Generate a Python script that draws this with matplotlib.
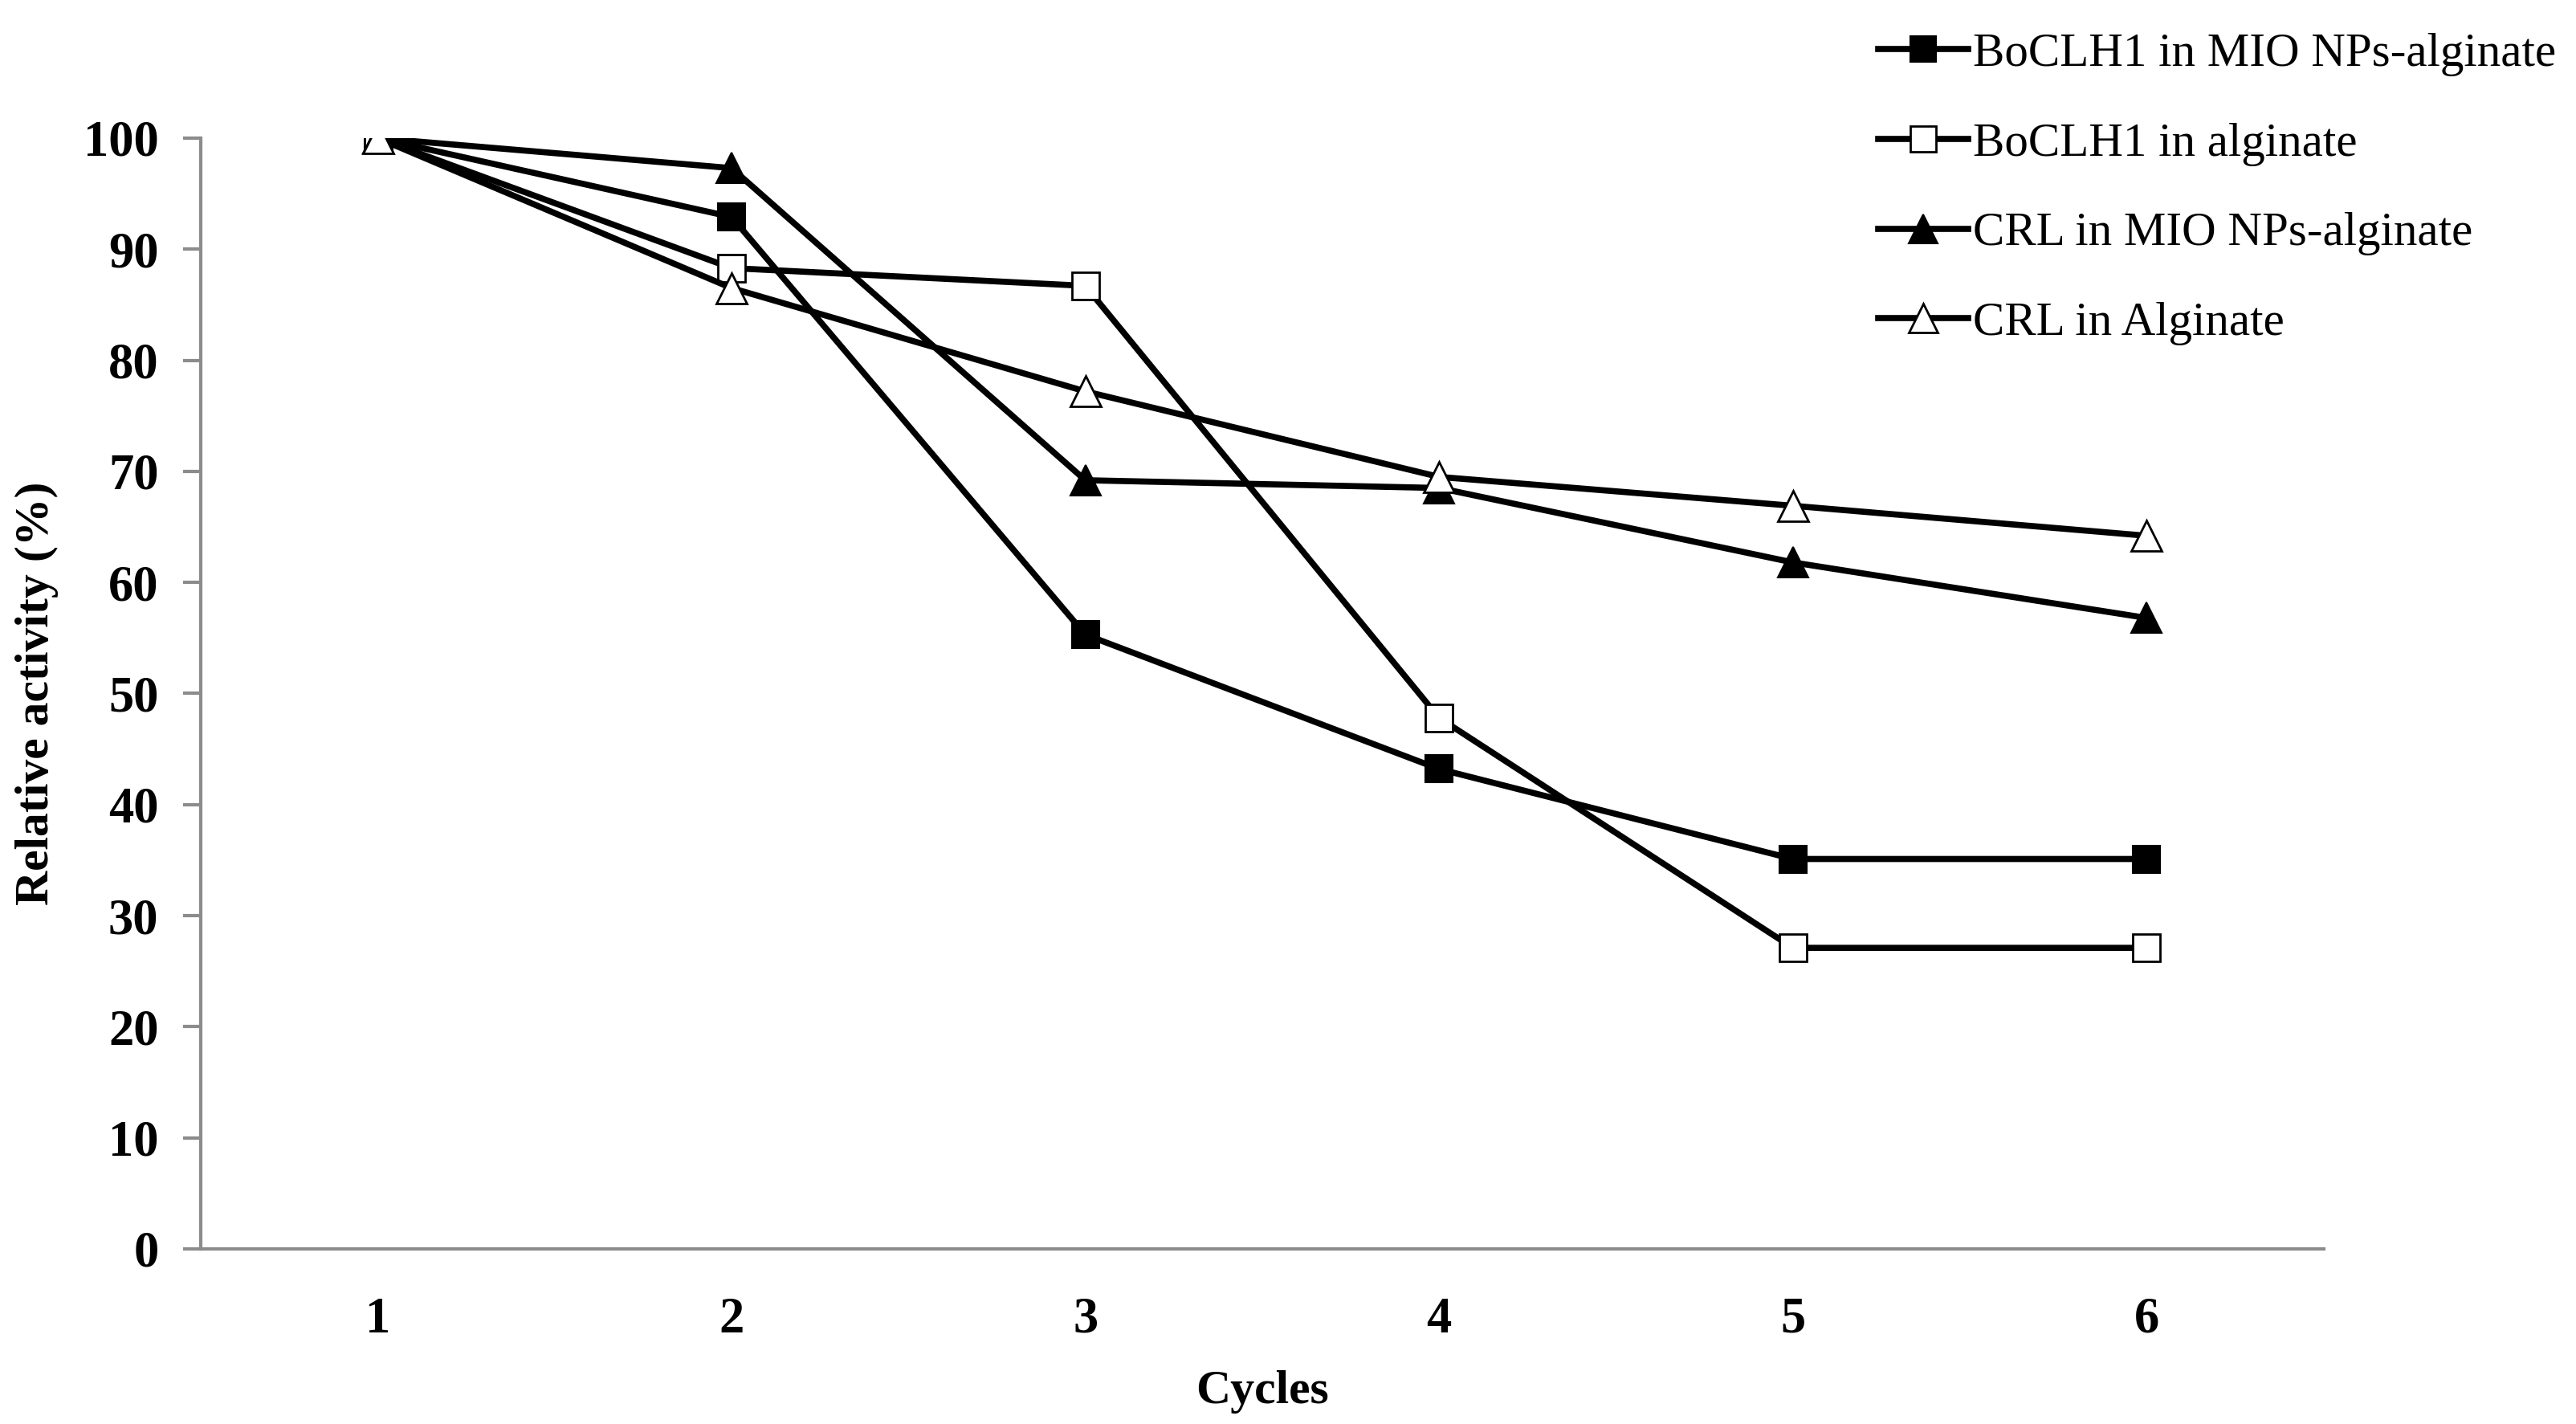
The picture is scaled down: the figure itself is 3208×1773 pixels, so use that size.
import matplotlib.pyplot as plt

plt.rcParams['font.family'] = ['Liberation Serif', 'DejaVu Serif']

# Data
cycles = [1, 2, 3, 4, 5, 6]
boclh1_mio = [100, 92.9, 55.3, 43.2, 35.1, 35.1]
boclh1_alg = [100, 88.3, 86.7, 47.8, 27.1, 27.1]
crl_mio = [100, 97.3, 69.2, 68.5, 61.8, 56.8]
crl_alg = [100, 86.5, 77.2, 69.5, 66.9, 64.2]

labels = ['BoCLH1 in MIO NPs-alginate', 'BoCLH1 in alginate',
          'CRL in MIO NPs-alginate', 'CRL in Alginate']
y_ticks = [0, 10, 20, 30, 40, 50, 60, 70, 80, 90, 100]

fig = plt.figure(figsize=(32.08, 17.73), dpi=100)
ax = fig.add_axes([0.078, 0.123, 0.824, 0.780])

lw = 5.5
ax.plot(cycles, boclh1_mio, color='black', lw=lw, marker='s', ms=24,
        mfc='black', mec='black', mew=1.5, label=labels[0], zorder=3)
ax.plot(cycles, boclh1_alg, color='black', lw=lw, marker='s', ms=24,
        mfc='white', mec='black', mew=2, label=labels[1], zorder=3)
ax.plot(cycles, crl_mio, color='black', lw=lw, marker='^', ms=28,
        mfc='black', mec='black', mew=1.5, label=labels[2], zorder=3)
ax.plot(cycles, crl_alg, color='black', lw=lw, marker='^', ms=28,
        mfc='white', mec='black', mew=2, label=labels[3], zorder=3)

ax.set_xlim(0.5, 6.5)
ax.set_ylim(0, 100)
ax.set_yticks(y_ticks)
ax.set_xticks(cycles)

for s in ['top', 'right']:
    ax.spines[s].set_visible(False)
for s in ['left', 'bottom']:
    ax.spines[s].set_color('#8c8c8c')
    ax.spines[s].set_linewidth(3)

ax.tick_params(axis='y', direction='out', length=16, width=3, color='#8c8c8c',
               pad=22, labelsize=45)
ax.tick_params(axis='x', length=0, pad=43, labelsize=45)
for t in ax.get_xticklabels() + ax.get_yticklabels():
    t.set_fontweight('bold')

ax.set_xlabel('Cycles', fontsize=43, fontweight='bold', labelpad=24)
ax.set_ylabel('Relative activity (%)', fontsize=43, fontweight='bold', labelpad=22)

fig.legend(loc='upper left', bbox_to_anchor=(0.729, 0.977), frameon=False,
           fontsize=42.5, handlelength=1.9, handletextpad=0.1, labelspacing=0.97,
           borderpad=0, borderaxespad=0, markerscale=0.95)

fig.savefig('out.png', dpi=100)
